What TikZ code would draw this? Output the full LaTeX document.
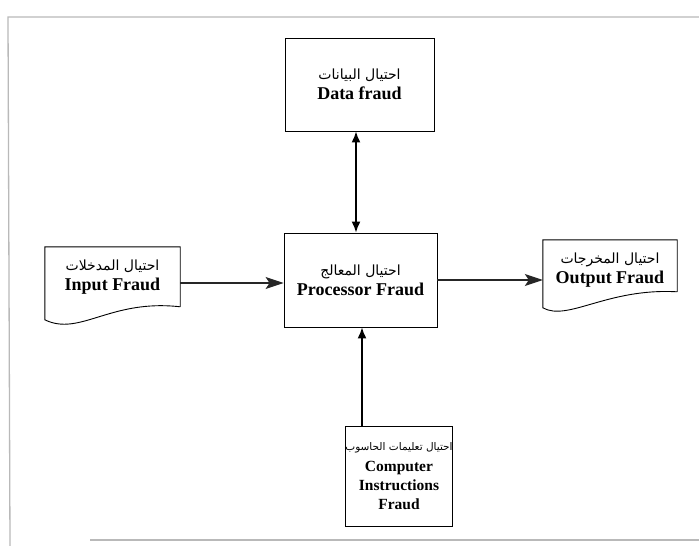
\documentclass[tikz,border=0pt]{standalone}
\usepackage{fontspec}
\setmainfont{Liberation Serif}
\newfontfamily\arabicfont[Script=Arabic]{DejaVu Sans}
\TeXXeTstate=1
\usetikzlibrary{arrows.meta,calc}
\newcommand{\ar}[1]{{\arabicfont\mdseries\fontsize{14}{16}\selectfont\beginR #1\endR}}
\newcommand{\arsm}[1]{{\arabicfont\mdseries\fontsize{10.5}{12}\selectfont\beginR #1\endR}}
\tikzset{
  boxnode/.style={draw, line width=0.9pt, align=center, inner sep=0pt, font=\fontsize{18}{20}\selectfont\bfseries},
  smallbox/.style={boxnode, font=\fontsize{15.5}{19}\selectfont\bfseries},
  frameline/.style={draw=gray!55, line width=1.3pt},
  docframe/.style={inner sep=0pt},
  docline/.style={draw, line width=0.9pt},
  txt/.style={align=center, inner sep=0pt, font=\fontsize{18}{20}\selectfont\bfseries},
  flowarrow/.style={line width=1.1pt, -{Stealth[length=18pt,width=12pt,inset=4pt]}, draw=black!85, fill=black!70},
  dblarrow/.style={line width=1.6pt, {Latex[length=11pt,width=9pt]}-{Latex[length=11pt,width=9pt]}},
  uparrow/.style={line width=1.6pt, -{Latex[length=11pt,width=9pt]}}
}
\begin{document}
\begin{tikzpicture}[x=1pt,y=-1pt]
\useasboundingbox (0,0) rectangle (699,546);
% scan frame
\coordinate (f1) at (8,17);
\coordinate (f2) at (699,17);
\coordinate (f3) at (10,546);
\coordinate (f4) at (90,540);
\coordinate (f5) at (699,540);
\draw[frameline] (f2) -- (f1) -- (f3);
\draw[frameline] (f4) -- (f5);

% boxes
\node[boxnode, minimum width=149pt, minimum height=93pt] (data) at (359.5,84.5)
  {\ar{احتيال البيانات}\\Data fraud};
\node[boxnode, minimum width=153pt, minimum height=94pt] (proc) at (360.5,280)
  {\ar{احتيال المعالج}\\Processor Fraud};
\node[smallbox, minimum width=98pt, minimum height=100pt] (comp) at (399,476)
  {\arsm{احتيال تعليمات الحاسوب}\\[2pt]Computer\\Instructions\\Fraud};

% input document
\node[docframe, minimum width=135pt, minimum height=72pt] (in) at (112.5,283) {};
\node[txt] (intxt) at (112.5,277) {\ar{احتيال المدخلات}\\Input Fraud};
\draw[docline] ($(in.north east)+(0,60)$) -- (in.north east) -- (in.north west) -- ($(in.north west)+(0,73)$)
  .. controls ($(in.north west)+(35,90)$) and ($(in.north east)+(-70,52)$) .. ($(in.north east)+(0,60)$);

% output document
\node[docframe, minimum width=134pt, minimum height=80pt] (out) at (610,280) {};
\node[txt] (outtxt) at (610,270) {\ar{احتيال المخرجات}\\Output Fraud};
\draw[docline] ($(out.north east)+(0,52)$) -- (out.north east) -- (out.north west) -- ($(out.north west)+(0,68)$)
  .. controls ($(out.north west)+(25,82)$) and ($(out.north east)+(-70,48)$) .. ($(out.north east)+(0,52)$);

% connectors
\coordinate (ax) at (356,0);
\coordinate (cx) at (362,0);
\draw[dblarrow] (data.south -| ax) -- (proc.north -| ax);
\draw[flowarrow] (in.east) -- (proc.west |- in.east);
\draw[flowarrow] (proc.east |- out.west) -- (out.west);
\draw[uparrow] (comp.north -| cx) -- (proc.south -| cx);
\end{tikzpicture}
\end{document}
